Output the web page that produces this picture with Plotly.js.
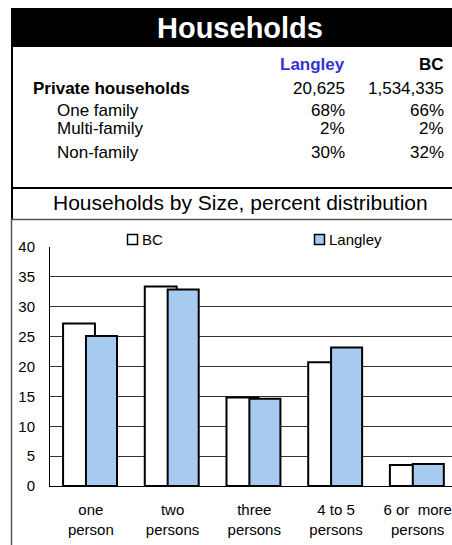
<!DOCTYPE html>
<html>
<head>
<meta charset="utf-8">
<script src="https://cdn.plot.ly/plotly-3.0.1.min.js"></script>
<style>html,body{margin:0;padding:0;background:#fff;overflow:hidden;}#chart{width:452px;height:545px;}</style>
</head>
<body>
<div id="chart"></div>
<script>
// ---- Data ----
var categories = ["one<br>person", "two<br>persons", "three<br>persons", "4 to 5<br>persons", "6 or  more<br>persons"];
var seriesNames = ["BC", "Langley"];
var bcValues = [27.2, 33.4, 14.8, 20.7, 3.5];
var langleyValues = [25.1, 32.9, 14.6, 23.2, 3.7];
var yTicks = [0, 5, 10, 15, 20, 25, 30, 35, 40];
var gridTicks = [5, 10, 15, 20, 25, 30, 35];

var tableTitle = "Households";
var chartTitle = "Households by Size, percent distribution";
var tableColumns = ["Langley", "BC"];
var tableRows = ["Private households", "One family", "Multi-family", "Non-family"];
var langleyTable = ["20,625", "68%", "2%", "30%"];
var bcTable = ["1,534,335", "66%", "2%", "32%"];

// ---- Layout helpers ----
var W = 452, H = 545;
function X(px) { return px / W; }
function Y(py) { return 1 - py / H; }
var FONT = "Arial, 'Liberation Sans', sans-serif";
var seriesColors = ["#ffffff", "#A6CAF0"];

var annotations = [];
function ann(text, x, y, xanchor, size, color, bold) {
  annotations.push({
    text: bold ? "<b>" + text + "</b>" : text,
    x: X(x), y: Y(y), xref: "paper", yref: "paper",
    xanchor: xanchor, yanchor: "middle", showarrow: false,
    font: {family: FONT, size: size, color: color || "#000"}
  });
}
ann(tableTitle, 240, 28, "center", 29, "#fff", true);
ann(tableColumns[0], 347, 64, "right", 17, "#3333CC", true);
ann(tableColumns[1], 446, 64, "right", 17, "#000", true);
var rowY = [89, 110, 129, 152];
var rowX = [31, 55, 55, 55];
for (var i = 0; i < tableRows.length; i++) {
  ann(tableRows[i], rowX[i], rowY[i], "left", 17, "#000", i === 0);
  ann(langleyTable[i], 347, rowY[i], "right", 17, "#000", false);
  ann(bcTable[i], 446, rowY[i], "right", 17, "#000", false);
}
ann(chartTitle, 240, 202, "center", 21, "#000", false);

var shapes = [
  {type: "rect", xref: "paper", yref: "paper", x0: X(12), x1: 1, y0: Y(47), y1: Y(8), fillcolor: "#000", line: {width: 0}, layer: "below"},
  {type: "line", xref: "paper", yref: "paper", x0: X(12), x1: X(12), y0: Y(8), y1: Y(219), line: {color: "#000", width: 2}},
  {type: "line", xref: "paper", yref: "paper", x0: X(11.5), x1: X(11.5), y0: Y(219), y1: 0, line: {color: "#555", width: 1.5}},
  {type: "line", xref: "paper", yref: "paper", x0: X(12), x1: 1, y0: Y(188), y1: Y(188), line: {color: "#000", width: 2}},
  {type: "line", xref: "paper", yref: "paper", x0: X(11), x1: 1, y0: Y(219.5), y1: Y(219.5), line: {color: "#555", width: 1.5}}
];

// legend (swatch + label)
var legendX = [127, 314];
for (var k = 0; k < seriesNames.length; k++) {
  shapes.push({type: "rect", xref: "paper", yref: "paper",
    x0: X(legendX[k] + 0.5), x1: X(legendX[k] + 10.5), y0: Y(244.5), y1: Y(234.5),
    fillcolor: seriesColors[k], line: {color: "#000", width: 1.5}});
  ann(seriesNames[k], legendX[k] + 13, 239.5, "left", 15, "#000", false);
}

var traces = [
  {type: "bar", name: seriesNames[0], x: categories, y: bcValues, offset: -0.34, width: 0.39,
   marker: {color: seriesColors[0], line: {color: "#000", width: 2}}, hoverinfo: "none"},
  {type: "bar", name: seriesNames[1], x: categories, y: langleyValues, offset: -0.06, width: 0.38,
   marker: {color: seriesColors[1], line: {color: "#000", width: 2}}, hoverinfo: "none"},
  {type: "scatter", x: [categories[0]], y: [0], yaxis: "y2", mode: "none", showlegend: false, hoverinfo: "none"}
];

var layout = {
  width: W, height: H,
  margin: {l: 0, r: 0, t: 0, b: 0},
  paper_bgcolor: "#fff", plot_bgcolor: "rgba(0,0,0,0)",
  barmode: "overlay",
  showlegend: false,
  xaxis: {domain: [X(50), 1], range: [-0.5, 4.42], type: "category",
          showline: true, linecolor: "#000", linewidth: 1, showgrid: false, zeroline: false,
          ticks: "", ticklabelstandoff: 10,
          tickfont: {family: FONT, size: 15, color: "#000"}},
  yaxis: {domain: [Y(486), Y(247)], range: [0, 40], tickvals: yTicks,
          showline: true, linecolor: "#000", linewidth: 1, showgrid: false, zeroline: false,
          ticks: "", ticklabelstandoff: 11,
          tickfont: {family: FONT, size: 15, color: "#000"}},
  yaxis2: {domain: [Y(486), Y(247)], range: [0, 40], overlaying: "y", tickvals: gridTicks,
           showgrid: true, gridcolor: "#333", gridwidth: 1, showticklabels: false,
           showline: false, zeroline: false, ticks: ""},
  annotations: annotations,
  shapes: shapes
};

Plotly.newPlot("chart", traces, layout, {staticPlot: true, displayModeBar: false});
</script>
</body>
</html>
